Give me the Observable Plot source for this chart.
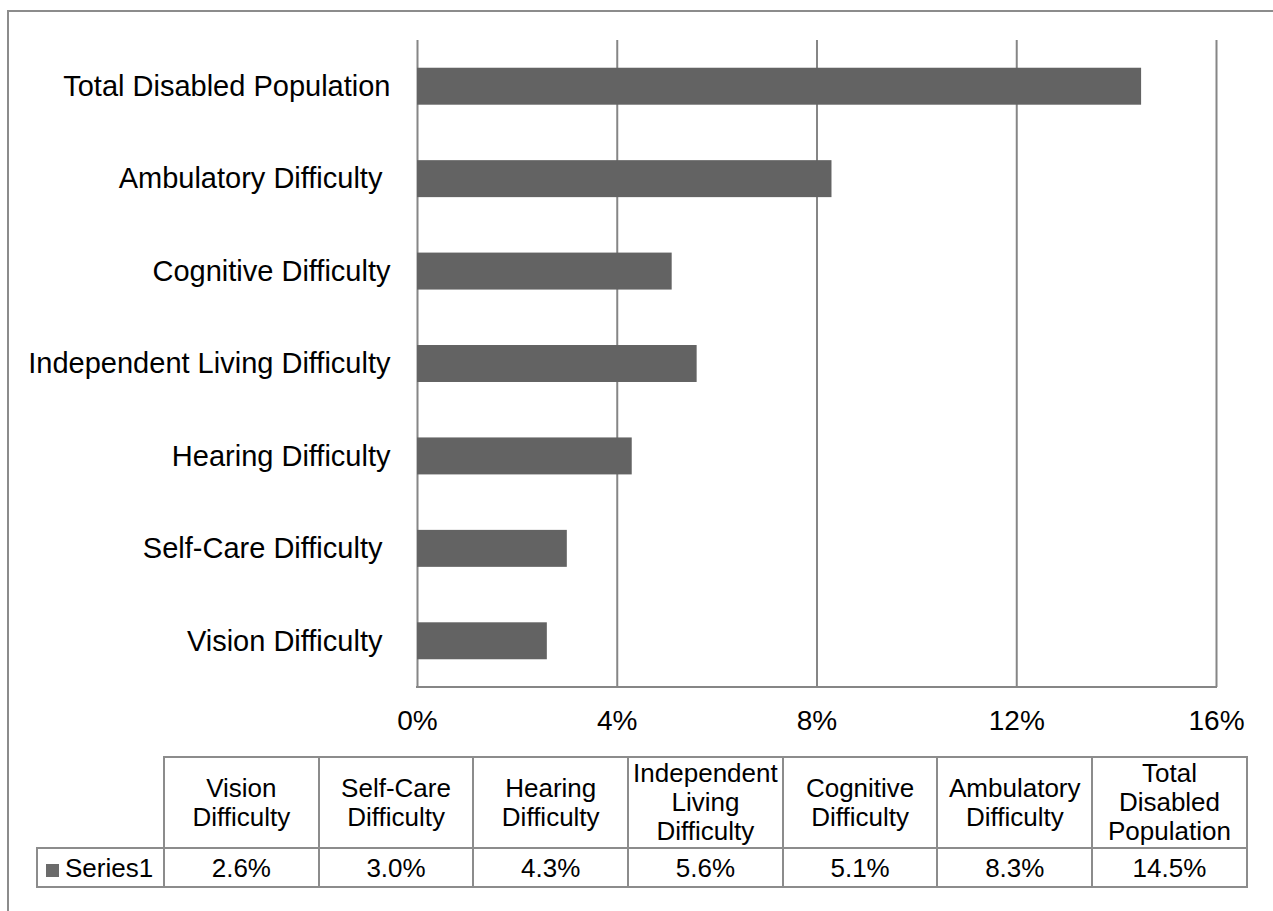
<!DOCTYPE html>
<html>
<head>
<meta charset="utf-8">
<script src="https://cdn.jsdelivr.net/npm/d3@7"></script>
<script src="https://cdn.jsdelivr.net/npm/@observablehq/plot@0.6"></script>
<style>
  html, body { margin: 0; padding: 0; background: #fff; }
  body { width: 1273px; height: 911px; overflow: hidden; position: relative;
         font-family: "Liberation Sans", Arial, sans-serif; }
  #frame { position: absolute; left: 7px; top: 10px; width: 1300px; height: 950px;
           border-left: 2px solid #8c8c8c; border-top: 2px solid #8c8c8c; box-sizing: border-box; }
  #chart { position: absolute; left: 0; top: 0; }
  #tbl { position: absolute; left: 36px; top: 756px; border-collapse: collapse; table-layout: fixed;
         font-size: 26px; line-height: 29px; color: #000; width: 1210px; }
  #tbl td { border: 2px solid #8c8c8c; padding: 0 1px; text-align: center; vertical-align: middle; overflow: visible; }
  #tbl td.blank { border-top: none; border-left: none; }
  #tbl tr.head td { height: 89px; }
  #tbl tr.vals td { height: 37px; line-height: 30px; }
  #tbl td.series { text-align: left; padding-left: 8px; white-space: nowrap; }
  #tbl .key { display: inline-block; width: 13px; height: 13px; background: #6b6b6b; margin-right: 6px; vertical-align: 0px; }
</style>
</head>
<body>
<div id="frame"></div>
<div id="chart"></div>
<table id="tbl"></table>
<script>
// ---- data (source / table order; chart shows the first category at the bottom)
const categories = [
  "Vision Difficulty ",
  "Self-Care Difficulty ",
  "Hearing Difficulty",
  "Independent Living Difficulty",
  "Cognitive Difficulty",
  "Ambulatory Difficulty ",
  "Total Disabled Population"
];
const values = [2.6, 3.0, 4.3, 5.6, 5.1, 8.3, 14.5];
const xTicks = [0, 4, 8, 12, 16];
const seriesName = "Series1";

const data = categories.map((c, i) => ({category: c, value: values[i]}));

const W = 1273, H = 750;
const mTop = 40, mBottom = 63, mLeft = 417, mRight = 57;

const chart = Plot.plot({
  width: W,
  height: H,
  marginTop: mTop,
  marginBottom: mBottom,
  marginLeft: mLeft,
  marginRight: mRight,
  style: {
    fontFamily: '"Liberation Sans", Arial, sans-serif',
    fontSize: "28px",
    color: "#000",
    background: "transparent",
    overflow: "visible"
  },
  x: {domain: [0, 16], ticks: xTicks, tickFormat: d => d + "%", tickSize: 0, tickPadding: 23, label: null},
  y: {domain: categories.slice().reverse(), paddingInner: 0.6, paddingOuter: 0.3, round: false,
      tickSize: 0, tickPadding: 27, label: null,
      tickFormat: d => d.replace(/ $/, "\u00a0")},
  marks: [
    Plot.ruleX(xTicks, {stroke: "#868686", strokeWidth: 2}),
    (index, scales, values, dims) => {
      const g = d3.create("svg:g");
      g.append("line")
        .attr("x1", dims.marginLeft - 1)
        .attr("x2", dims.width - dims.marginRight + 1)
        .attr("y1", dims.height - dims.marginBottom)
        .attr("y2", dims.height - dims.marginBottom)
        .attr("stroke", "#868686")
        .attr("stroke-width", 2);
      return g.node();
    },
    Plot.barX(data, {x: "value", y: "category", fill: "#636363"})
  ]
});
document.getElementById("chart").appendChild(chart);
d3.select(chart).selectAll('[aria-label^="y-axis"] text').style("font-size", "29px");

// ---- data table
const tbl = d3.select("#tbl");
const colgroup = tbl.append("colgroup");
colgroup.append("col").style("width", "127px");
categories.forEach(() => colgroup.append("col").style("width", "154.7px"));
const head = tbl.append("tr").attr("class", "head");
head.append("td").attr("class", "blank");
categories.forEach(c => head.append("td").text(c.trim()));
const row = tbl.append("tr").attr("class", "vals");
const sc = row.append("td").attr("class", "series");
sc.append("span").attr("class", "key");
sc.append("span").text(seriesName);
values.forEach(v => row.append("td").text(v.toFixed(1) + "%"));
</script>
</body>
</html>
